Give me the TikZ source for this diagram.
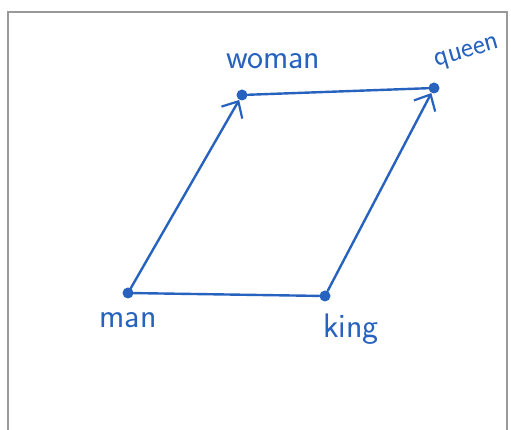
\documentclass[tikz,border=0pt]{standalone}
\usepackage{tikz}
\usetikzlibrary{positioning,arrows.meta}
\definecolor{inkblue}{RGB}{38,98,190}

\begin{document}
\begin{tikzpicture}[x=1pt,y=1pt,
    dot/.style={circle,fill=inkblue,inner sep=0pt,minimum size=11pt},
    lbl/.style={font=\sffamily\fontsize{34}{34}\selectfont,text=inkblue,inner sep=0pt},
    ink/.style={draw=inkblue,line width=2.4pt,line cap=round},
    tip/.style={-{Straight Barb[length=13pt,width=24pt,line width=2.2pt]}}]
\useasboundingbox (0,0) rectangle (511,430);
% frame
\draw[gray!80,line width=2pt] (8,0) -- (8,418) -- (507,418) -- (507,0);
% points
\node[dot] (man) at (128,137) {};
\node[dot] (king) at (325,134) {};
\node[dot] (woman) at (242,335) {};
\node[dot] (queen) at (434,342) {};
% labels
\node[lbl,below=14pt of man] (manlbl) {man};
\node[lbl,below right=14pt and -6pt of king] (kinglbl) {king};
\node[lbl,above right=22pt and -20pt of woman] (womanlbl) {woman};
\node[lbl,font=\sffamily\fontsize{29}{29}\selectfont,rotate=16,
      above right=12pt and 0pt of queen] (queenlbl) {queen};
% edges
\draw[ink] (man) -- (king);
\draw[ink] (woman) -- (queen);
\draw[ink,tip] (man) -- (woman);
\draw[ink,tip] (king) -- (queen);
\end{tikzpicture}
\end{document}
